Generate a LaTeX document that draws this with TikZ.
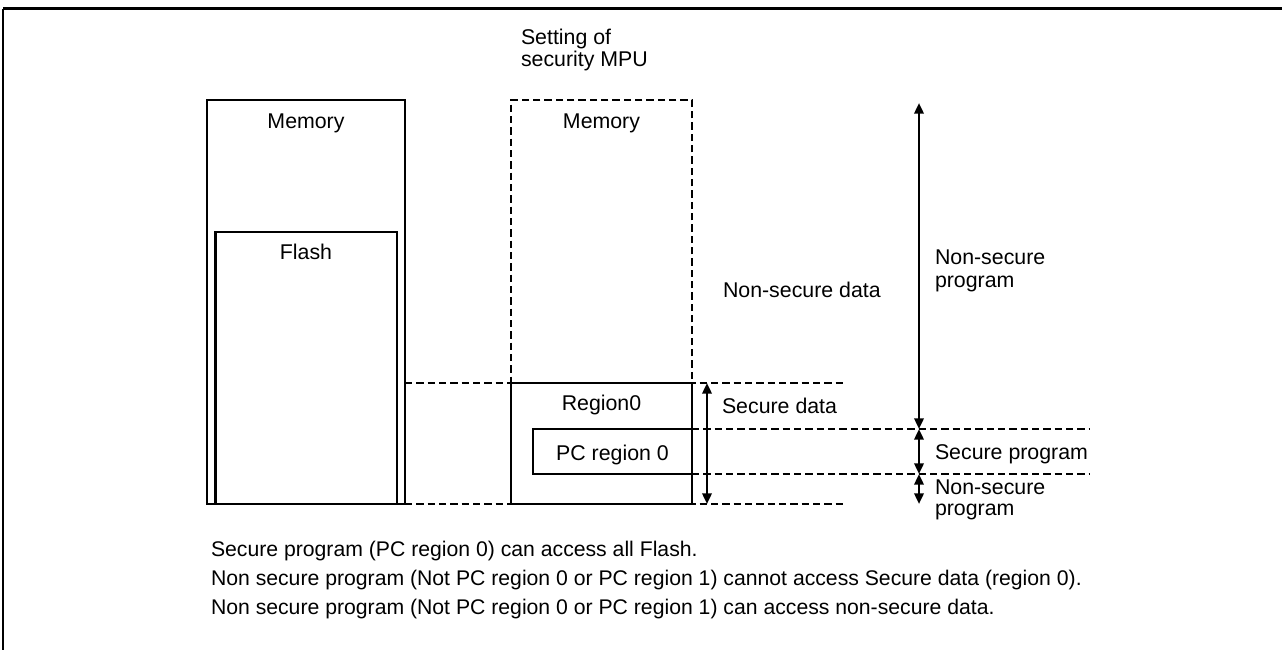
\documentclass[tikz,border=0pt]{standalone}
\usepackage{fontspec}
\setmainfont{Liberation Sans}
\usetikzlibrary{arrows.meta}
\begin{document}
\begin{tikzpicture}[x=0.75pt,y=-0.75pt,
  lbl/.style={font=\fontsize{16}{17}\selectfont, inner sep=0pt, outer sep=0pt, anchor=base west},
  clbl/.style={lbl, anchor=base},
  note/.style={font=\fontsize{15.9}{17}\selectfont, inner sep=0pt, outer sep=0pt, anchor=base west},
  sbox/.style={draw, line width=1.6pt, inner sep=0pt, outer sep=0pt},
  dbox/.style={draw, line width=2pt, dash pattern=on 5.5pt off 3pt, inner sep=0pt, outer sep=0pt},
  dline/.style={line width=2pt, dash pattern=on 5.5pt off 3pt},
  dim/.style={line width=1.8pt, {Triangle[length=8pt,width=7pt]}-{Triangle[length=8pt,width=7pt]}}
]
\useasboundingbox (0,0) rectangle (1282,650);
% frame
\coordinate (ftl) at (3,8.5);
\coordinate (ftr) at (1282,8.5);
\coordinate (fbl) at (3,650);
\draw[line width=2.8pt] (ftl) -- (ftr);
\draw[line width=1.8pt] (ftl) -- (fbl);

% left memory
\node[sbox, minimum width=148.5pt, minimum height=303pt] (mem) at (306,302) {};
\node[sbox, minimum width=136.1pt, minimum height=204pt] (flash) at (306.25,368) {};
\node[clbl] (memt) at (306,128) {Memory};
\node[clbl] (flasht) at (306,259) {Flash};

% MPU memory
\node[lbl] (set1) at (521,44) {Setting of};
\node[lbl] (set2) at (521,66) {security MPU};
\node[sbox, minimum width=135.75pt, minimum height=90.75pt] (reg) at (601.5,443.5) {};
\node[dbox, minimum width=135.75pt, minimum height=303pt] (mpu) at (601.5,302) {};
\node[sbox, minimum width=119.25pt, minimum height=33.75pt] (pc) at (612.5,451.5) {};
\node[clbl] (memt2) at (601.5,128) {Memory};
\node[clbl] (regt) at (601.5,410) {Region0};
\node[clbl] (pct) at (612.5,460) {PC region 0};

% dashed lines
\coordinate (d1a) at (405,383);
\coordinate (d1b) at (845,383);
\coordinate (d2a) at (405,504);
\coordinate (d2b) at (845,504);
\coordinate (d3a) at (692,429);
\coordinate (d3b) at (1090,429);
\coordinate (d4a) at (692,474);
\coordinate (d4b) at (1090,474);
\draw[dline] (d1a) -- (d1b);
\draw[dline] (d2a) -- (d2b);
\draw[dline] (d3a) -- (d3b);
\draw[dline] (d4a) -- (d4b);

% arrows
\coordinate (sdt) at (707,383);
\coordinate (sdb) at (707,504);
\draw[dim] (sdt) -- (sdb);
\coordinate (nptop) at (919,103);
\coordinate (np1) at (919,429);
\coordinate (np2) at (919,474);
\coordinate (np3) at (919,504);
\draw[dim] (nptop) -- (np1);
\draw[dim] (np1) -- (np2);
\draw[dim] (np2) -- (np3);

% labels
\node[lbl] (nsd) at (723,297) {Non-secure data};
\node[lbl] (nsp1) at (935,264) {Non-secure};
\node[lbl] (nsp2) at (935,287) {program};
\node[lbl] (sdt2) at (722,413) {Secure data};
\node[lbl] (spt) at (935,459) {Secure program};
\node[lbl] (nsp3) at (935,494) {Non-secure};
\node[lbl] (nsp4) at (935,515) {program};

% notes
\node[note] (n1) at (211,556) {Secure program (PC region 0) can access all Flash.};
\node[note] (n2) at (211,585) {Non secure program (Not PC region 0 or PC region 1) cannot access Secure data (region 0).};
\node[note] (n3) at (211,614) {Non secure program (Not PC region 0 or PC region 1) can access non-secure data.};
\end{tikzpicture}
\end{document}
